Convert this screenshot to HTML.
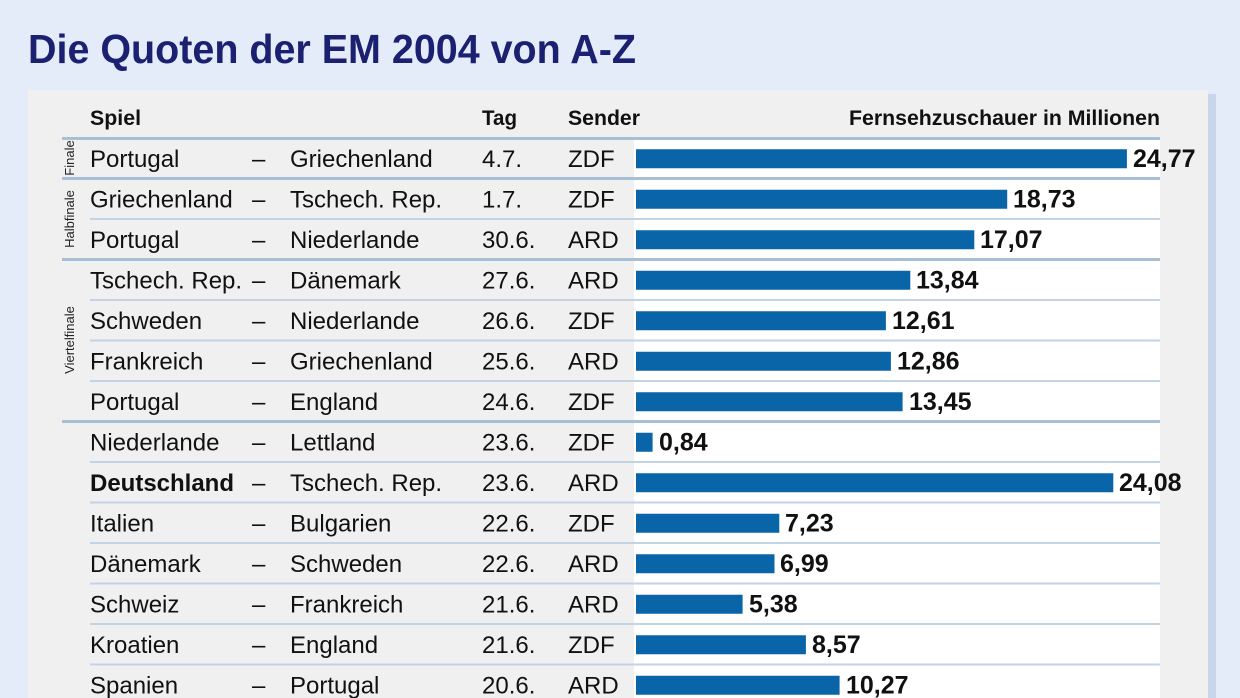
<!DOCTYPE html>
<html><head><meta charset="utf-8"><style>
html,body{margin:0;padding:0;background:#e4ecfa;}
svg{display:block;font-family:"Liberation Sans",sans-serif;}
</style></head><body>
<svg width="1240" height="698" viewBox="0 0 1240 698" xmlns="http://www.w3.org/2000/svg">
<rect width="1240" height="698" fill="#e4ecfa"/>
<text x="28" y="63" font-size="41" font-weight="bold" fill="#1b2170" textLength="608" lengthAdjust="spacingAndGlyphs">Die Quoten der EM 2004 von A-Z</text>
<rect x="1208" y="94" width="8" height="604" fill="#c9d5ea"/>
<rect x="28" y="90" width="1180" height="608" fill="#f0f0f0"/>
<rect x="634" y="139" width="526" height="559" fill="#ffffff"/>
<g font-size="21" font-weight="bold" fill="#111">
<text x="90" y="125" textLength="51" lengthAdjust="spacingAndGlyphs">Spiel</text>
<text x="482" y="125" textLength="35" lengthAdjust="spacingAndGlyphs">Tag</text>
<text x="568" y="125" textLength="72" lengthAdjust="spacingAndGlyphs">Sender</text>
<text x="1160" y="125" text-anchor="end" textLength="311" lengthAdjust="spacingAndGlyphs">Fernsehzuschauer in Millionen</text>
</g>
<g stroke-width="2" stroke="#c2d3e4">
<line x1="90" x2="1160" y1="219" y2="219"/>
<line x1="90" x2="1160" y1="300" y2="300"/>
<line x1="90" x2="1160" y1="340.5" y2="340.5"/>
<line x1="90" x2="1160" y1="381" y2="381"/>
<line x1="90" x2="1160" y1="462" y2="462"/>
<line x1="90" x2="1160" y1="502.5" y2="502.5"/>
<line x1="90" x2="1160" y1="543" y2="543"/>
<line x1="90" x2="1160" y1="583.5" y2="583.5"/>
<line x1="90" x2="1160" y1="624" y2="624"/>
<line x1="90" x2="1160" y1="664.5" y2="664.5"/>
</g>
<g stroke-width="3" stroke="#a9bfd6">
<line x1="62" x2="1160" y1="138.5" y2="138.5"/>
<line x1="62" x2="1160" y1="178.5" y2="178.5"/>
<line x1="62" x2="1160" y1="259.5" y2="259.5"/>
<line x1="62" x2="1160" y1="421.5" y2="421.5"/>
</g>
<g fill="#0a64a8">
<rect x="636" y="149.25" width="490.9" height="19"/>
<rect x="636" y="189.75" width="371.2" height="19"/>
<rect x="636" y="230.25" width="338.3" height="19"/>
<rect x="636" y="270.75" width="274.3" height="19"/>
<rect x="636" y="311.25" width="249.9" height="19"/>
<rect x="636" y="351.75" width="254.9" height="19"/>
<rect x="636" y="392.25" width="266.6" height="19"/>
<rect x="636" y="432.75" width="16.6" height="19"/>
<rect x="636" y="473.25" width="477.3" height="19"/>
<rect x="636" y="513.75" width="143.3" height="19"/>
<rect x="636" y="554.25" width="138.5" height="19"/>
<rect x="636" y="594.75" width="106.6" height="19"/>
<rect x="636" y="635.25" width="169.9" height="19"/>
<rect x="636" y="675.75" width="203.6" height="19"/>
</g>
<g font-size="24" fill="#111">
<text x="90" y="167">Portugal</text><text x="252" y="167">–</text><text x="290" y="167">Griechenland</text><text x="482" y="167">4.7.</text><text x="568" y="167">ZDF</text>
<text x="90" y="207.5">Griechenland</text><text x="252" y="207.5">–</text><text x="290" y="207.5">Tschech. Rep.</text><text x="482" y="207.5">1.7.</text><text x="568" y="207.5">ZDF</text>
<text x="90" y="248">Portugal</text><text x="252" y="248">–</text><text x="290" y="248">Niederlande</text><text x="482" y="248">30.6.</text><text x="568" y="248">ARD</text>
<text x="90" y="288.5">Tschech. Rep.</text><text x="252" y="288.5">–</text><text x="290" y="288.5">Dänemark</text><text x="482" y="288.5">27.6.</text><text x="568" y="288.5">ARD</text>
<text x="90" y="329">Schweden</text><text x="252" y="329">–</text><text x="290" y="329">Niederlande</text><text x="482" y="329">26.6.</text><text x="568" y="329">ZDF</text>
<text x="90" y="369.5">Frankreich</text><text x="252" y="369.5">–</text><text x="290" y="369.5">Griechenland</text><text x="482" y="369.5">25.6.</text><text x="568" y="369.5">ARD</text>
<text x="90" y="410">Portugal</text><text x="252" y="410">–</text><text x="290" y="410">England</text><text x="482" y="410">24.6.</text><text x="568" y="410">ZDF</text>
<text x="90" y="450.5">Niederlande</text><text x="252" y="450.5">–</text><text x="290" y="450.5">Lettland</text><text x="482" y="450.5">23.6.</text><text x="568" y="450.5">ZDF</text>
<text x="90" y="491" font-weight="bold" textLength="144" lengthAdjust="spacingAndGlyphs">Deutschland</text><text x="252" y="491">–</text><text x="290" y="491">Tschech. Rep.</text><text x="482" y="491">23.6.</text><text x="568" y="491">ARD</text>
<text x="90" y="531.5">Italien</text><text x="252" y="531.5">–</text><text x="290" y="531.5">Bulgarien</text><text x="482" y="531.5">22.6.</text><text x="568" y="531.5">ZDF</text>
<text x="90" y="572">Dänemark</text><text x="252" y="572">–</text><text x="290" y="572">Schweden</text><text x="482" y="572">22.6.</text><text x="568" y="572">ARD</text>
<text x="90" y="612.5">Schweiz</text><text x="252" y="612.5">–</text><text x="290" y="612.5">Frankreich</text><text x="482" y="612.5">21.6.</text><text x="568" y="612.5">ARD</text>
<text x="90" y="653">Kroatien</text><text x="252" y="653">–</text><text x="290" y="653">England</text><text x="482" y="653">21.6.</text><text x="568" y="653">ZDF</text>
<text x="90" y="693.5">Spanien</text><text x="252" y="693.5">–</text><text x="290" y="693.5">Portugal</text><text x="482" y="693.5">20.6.</text><text x="568" y="693.5">ARD</text>
</g>
<g font-size="25" font-weight="bold" fill="#111">
<text x="1133" y="167">24,77</text>
<text x="1013" y="207.5">18,73</text>
<text x="980" y="248">17,07</text>
<text x="916" y="288.5">13,84</text>
<text x="892" y="329">12,61</text>
<text x="897" y="369.5">12,86</text>
<text x="909" y="410">13,45</text>
<text x="659" y="450.5">0,84</text>
<text x="1119" y="491">24,08</text>
<text x="785" y="531.5">7,23</text>
<text x="780" y="572">6,99</text>
<text x="749" y="612.5">5,38</text>
<text x="812" y="653">8,57</text>
<text x="846" y="693.5">10,27</text>
</g>
<g font-size="13" fill="#222">
<text transform="translate(74,158) rotate(-90)" text-anchor="middle">Finale</text>
<text transform="translate(74,219) rotate(-90)" text-anchor="middle">Halbfinale</text>
<text transform="translate(74,340) rotate(-90)" text-anchor="middle">Viertelfinale</text>
</g>
</svg>
</body></html>
